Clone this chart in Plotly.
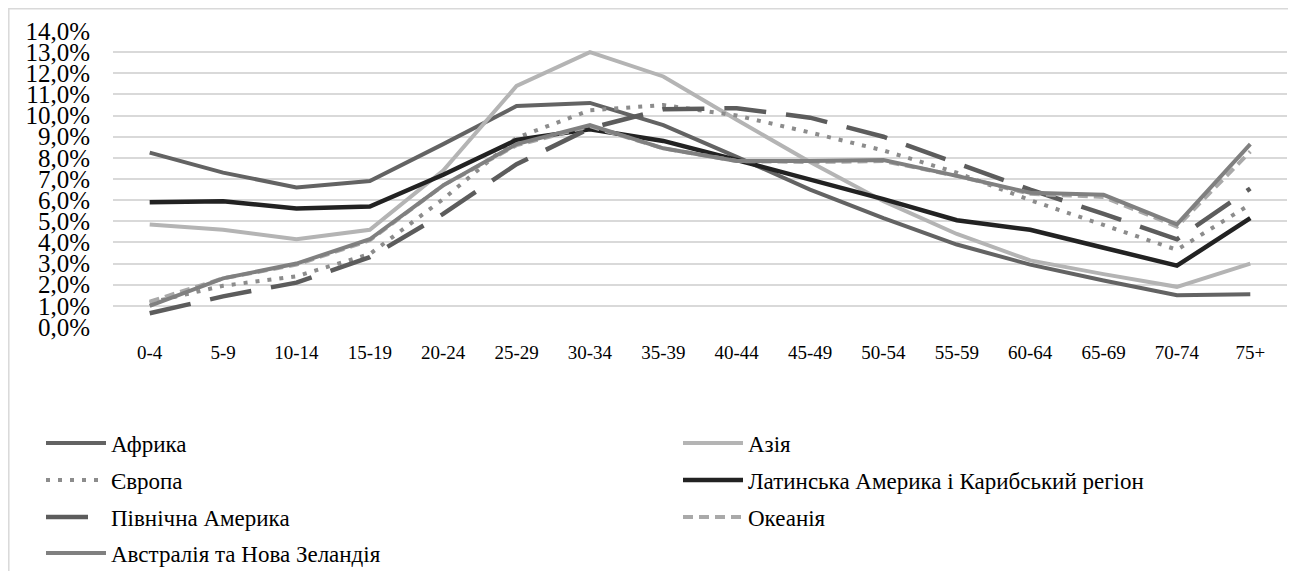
import plotly.graph_objects as go

categories = ["0-4", "5-9", "10-14", "15-19", "20-24", "25-29", "30-34", "35-39",
              "40-44", "45-49", "50-54", "55-59", "60-64", "65-69", "70-74", "75+"]

africa = [8.25, 7.3, 6.6, 6.9, 8.65, 10.45, 10.6, 9.55, 8.05, 6.5, 5.15, 3.9, 2.95, 2.2, 1.5, 1.55]
asia = [4.85, 4.6, 4.15, 4.6, 7.4, 11.4, 13.0, 11.85, 9.8, 7.8, 5.95, 4.4, 3.15, 2.5, 1.9, 3.0]
europe = [1.15, 1.95, 2.4, 3.45, 6.05, 8.95, 10.25, 10.5, 10.0, 9.2, 8.35, 7.3, 6.0, 4.8, 3.65, 5.8]
latam = [5.9, 5.95, 5.6, 5.7, 7.2, 8.85, 9.35, 8.8, 7.9, 7.0, 6.05, 5.05, 4.6, 3.75, 2.9, 5.15]
n_america = [0.65, 1.45, 2.1, 3.3, 5.35, 7.7, 9.4, 10.3, 10.35, 9.9, 9.0, 7.75, 6.5, 5.35, 4.15, 6.55]
oceania = [1.2, 2.3, 2.95, 4.1, 6.7, 8.6, 9.5, 8.45, 7.85, 7.8, 7.85, 7.15, 6.3, 6.15, 4.75, 8.3]
aus_nz = [1.0, 2.3, 3.0, 4.15, 6.7, 8.65, 9.55, 8.45, 7.85, 7.85, 7.9, 7.15, 6.35, 6.25, 4.85, 8.65]

y_ticks = [i for i in range(0, 15)]
y_tick_labels = [f"{i},0%" for i in range(0, 15)]

series = [
    ("Африка", africa, "#636363", "solid", 4),
    ("Азія", asia, "#b4b4b4", "solid", 4),
    ("Європа", europe, "#8c8c8c", "4px,8px", 4),
    ("Латинська Америка і Карибський регіон", latam, "#222222", "solid", 4.5),
    ("Північна Америка", n_america, "#5c5c5c", "42px,20px", 4.5),
    ("Океанія", oceania, "#a9a9a9", "10px,6px", 4),
    ("Австралія та Нова Зеландія", aus_nz, "#808080", "solid", 4),
]

FONT = "'Liberation Serif', 'Times New Roman', serif"

# the page body has an 8px margin, so the figure is drawn 8px in from the top-left
OFF = 8
W, H = 1296 - OFF, 571 - OFF
# plot area in window pixels: x 113..1287, y 31..327
L = 113 - OFF
R = W - (1287 - OFF)
T = 31 - OFF
B = H - (327 - OFF)
pw = W - L - R
ph = H - T - B


def px_to_paper_x(x):
    return (x - OFF - L) / pw


def px_to_paper_y(y):
    return (H - B - (y - OFF)) / ph


fig = go.Figure()
legend_rows = [443, 443, 480, 480, 517, 517, 553]
legend_cols = [41, 678, 41, 678, 41, 678, 41]
layout_legends = {}
for i, (name, vals, color, dash, width) in enumerate(series):
    lname = "legend" if i == 0 else f"legend{i+1}"
    fig.add_trace(go.Scatter(
        x=categories, y=vals, mode="lines", name=name,
        line=dict(color=color, width=width, dash=dash),
        legend=lname, hoverinfo="skip",
    ))
    layout_legends[lname] = dict(
        x=px_to_paper_x(legend_cols[i]), y=px_to_paper_y(legend_rows[i]),
        xanchor="left", yanchor="middle", xref="paper", yref="paper",
        bgcolor="rgba(0,0,0,0)", borderwidth=0,
        font=dict(family=FONT, size=23, color="#000000"),
        itemwidth=60,
    )

fig.update_layout(
    width=W, height=H,
    margin=dict(l=L, r=R, t=T, b=B, pad=0, autoexpand=False),
    paper_bgcolor="white", plot_bgcolor="white",
    showlegend=True,
    font=dict(family=FONT, color="#000000"),
    xaxis=dict(
        type="category", categoryorder="array", categoryarray=categories,
        range=[-0.5, len(categories) - 0.5],
        showgrid=False, zeroline=False, showline=False,
        ticks="", tickfont=dict(family=FONT, size=19, color="#000000"),
        ticklabelstandoff=12,
    ),
    yaxis=dict(
        range=[0, 14], tickvals=y_ticks, ticktext=y_tick_labels,
        showgrid=True, gridcolor="#d9d9d9", gridwidth=1.5,
        zeroline=False, showline=False, ticks="",
        tickfont=dict(family=FONT, size=25, color="#000000"),
        ticklabelstandoff=22,
    ),
    **layout_legends,
)

# outer chart border
fig.add_shape(type="rect", xref="paper", yref="paper",
              x0=px_to_paper_x(OFF + 0.8), x1=px_to_paper_x(1290),
              y0=px_to_paper_y(590), y1=px_to_paper_y(OFF + 0.8),
              line=dict(color="#d9d9d9", width=1.5), fillcolor="rgba(0,0,0,0)",
              layer="below")

fig.write_html("out.html")
